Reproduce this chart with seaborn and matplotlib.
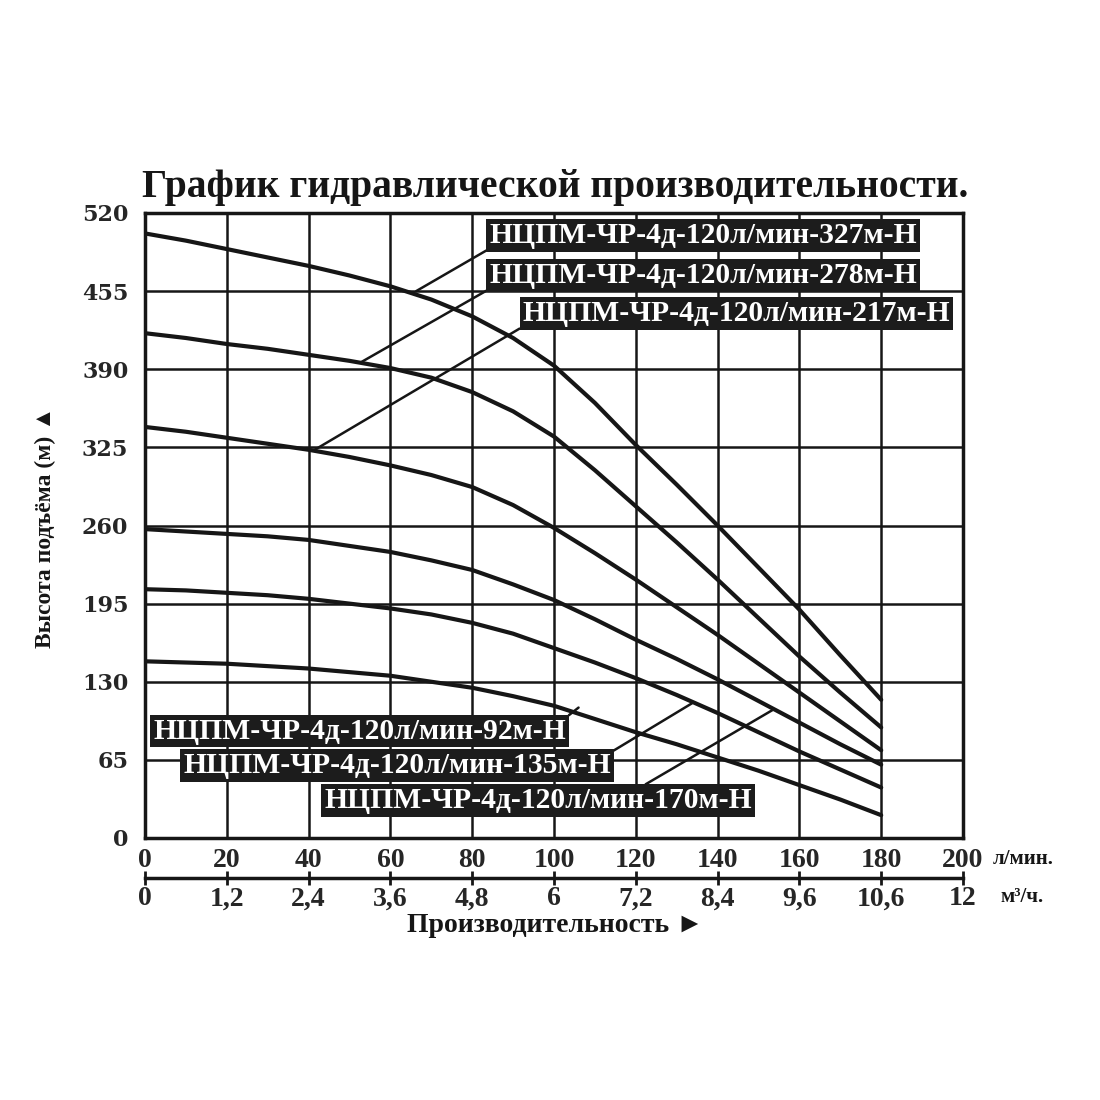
import matplotlib
matplotlib.use("Agg")
import matplotlib.pyplot as plt
import numpy as np
import pandas as pd
import seaborn as sb

# расход, л/мин
rashod = [0, 10, 20, 30, 40, 50, 60, 70, 80, 90, 100, 110, 120, 130, 140, 150, 160, 170, 180]
# напор, м
h_327 = [503, 497, 490, 483, 476, 468, 459, 448, 434, 416, 393, 362, 327, 294, 260, 225, 190, 152, 115]
h_278 = [420, 416, 411, 407, 402, 397, 391, 383, 371, 355, 334, 306, 276, 246, 215, 183, 151, 121, 92]
h_217 = [342, 338, 333, 328, 323, 317, 310, 302, 292, 277, 258, 237, 215, 192, 169, 145, 121, 97, 73]
h_170 = [257, 255, 253, 251, 248, 243, 238, 231, 223, 211, 198, 182, 165, 149, 132, 114, 96, 78, 61]
h_135 = [207, 206, 204, 202, 199, 195, 191, 186, 179, 170, 158, 146, 133, 119, 104, 88, 72, 57, 42]
h_92 = [147, 146, 145, 143, 141, 138, 135, 130, 125, 118, 110, 99, 88, 78, 67, 56, 44, 32, 19]

modeli = ["НЦПМ-ЧР-4д-120л/мин-327м-Н", "НЦПМ-ЧР-4д-120л/мин-278м-Н",
          "НЦПМ-ЧР-4д-120л/мин-217м-Н", "НЦПМ-ЧР-4д-120л/мин-170м-Н",
          "НЦПМ-ЧР-4д-120л/мин-135м-Н", "НЦПМ-ЧР-4д-120л/мин-92м-Н"]
krivye = [h_327, h_278, h_217, h_170, h_135, h_92]

x_ticks = [0, 20, 40, 60, 80, 100, 120, 140, 160, 180, 200]
m3_labels = ["0", "1,2", "2,4", "3,6", "4,8", "6", "7,2", "8,4", "9,6", "10,6", "12"]
y_ticks = [0, 65, 130, 195, 260, 325, 390, 455, 520]

# подписи: (модель, точка на кривой, левый край текста, центр по высоте, relpos)
podpisi = [
    (modeli[0], (66.3, 455), (84.2, 501.5), (0, 0)),
    (modeli[1], (52.9, 396), (84.2, 468), (0, 0)),
    (modeli[2], (41.5, 323), (92.3, 436.5), (0, 0)),
    (modeli[5], (106.0, 108.5), (2.0, 89), (1, 1)),
    (modeli[4], (133.7, 112), (9.3, 60), (1, 1)),
    (modeli[3], (153.7, 107), (43.8, 31), (0.74, 1)),
]

rows = []
for name, h in zip(modeli, krivye):
    for q, v in zip(rashod, h):
        rows.append({"Q": q, "H": v, "model": name})
df = pd.DataFrame(rows)

sb.set_style("white")
plt.rcParams["font.family"] = ["Liberation Serif", "DejaVu Sans"]
plt.rcParams["font.weight"] = "bold"

ink = "#161616"
fig = plt.figure(figsize=(11, 11), dpi=100)
ax = fig.add_axes([145 / 1100, 1 - 838 / 1100, 818 / 1100, 625 / 1100])

ax.set_xlim(0, 200)
ax.set_ylim(0, 520)
ax.set_xticks(x_ticks)
ax.set_yticks(y_ticks)
ax.grid(True, color=ink, lw=1.8)
ax.set_axisbelow(True)
for s in ax.spines.values():
    s.set_color(ink)
    s.set_linewidth(2.5)

sb.lineplot(data=df, x="Q", y="H", hue="model", palette={m: ink for m in modeli},
            lw=3.0, legend=False, ax=ax)
ax.set_xlabel("")
ax.set_ylabel("")

ax.tick_params(axis="x", length=0, pad=7)
ax.tick_params(axis="y", length=0, pad=12)
ax.set_xticklabels([str(t) for t in x_ticks], fontsize=20, fontweight="bold")
ax.set_yticklabels([str(t) for t in y_ticks], fontsize=16, fontweight="bold",
                   family="DejaVu Serif")

sec = ax.secondary_xaxis(-0.064)
sec.set_xticks(x_ticks)
sec.set_xticklabels(m3_labels, fontsize=20, fontweight="bold")
sec.spines["bottom"].set_linewidth(2.5)
sec.spines["bottom"].set_color(ink)
sec.tick_params(axis="x", direction="inout", length=10, width=2, color=ink, pad=1)

for name, xy, xt, rp in podpisi:
    ax.annotate(name, xy=xy, xytext=xt, ha="left", va="center", color="white",
                fontsize=21.3, fontweight="bold",
                bbox=dict(boxstyle="square,pad=0.1", fc="#1c1c1c", ec="none"),
                arrowprops=dict(arrowstyle="-", lw=1.8, color=ink, relpos=rp,
                                shrinkA=0, shrinkB=0))

fig.text(0.505, 1 - 187 / 1100, "График гидравлической производительности.",
         ha="center", va="center", fontsize=28.5, fontweight="bold", color=ink)
fig.text(993 / 1100, 1 - 859 / 1100, "л/мин.", ha="left", va="center",
         fontsize=15, fontweight="bold", color=ink)
fig.text(1000 / 1100, 1 - 897 / 1100, "м³/ч.", ha="left", va="center",
         fontsize=15, fontweight="bold", color=ink)
fig.text(555 / 1100, 1 - 926 / 1100, "Производительность ►", ha="center",
         va="center", fontsize=20, fontweight="bold", color=ink)
fig.text(45 / 1100, 1 - 527 / 1100, "Высота подъёма (м) ▲", ha="center",
         va="center", rotation=90, fontsize=17, fontweight="bold", color=ink)

fig.savefig("out.png", dpi=100, facecolor="white")
